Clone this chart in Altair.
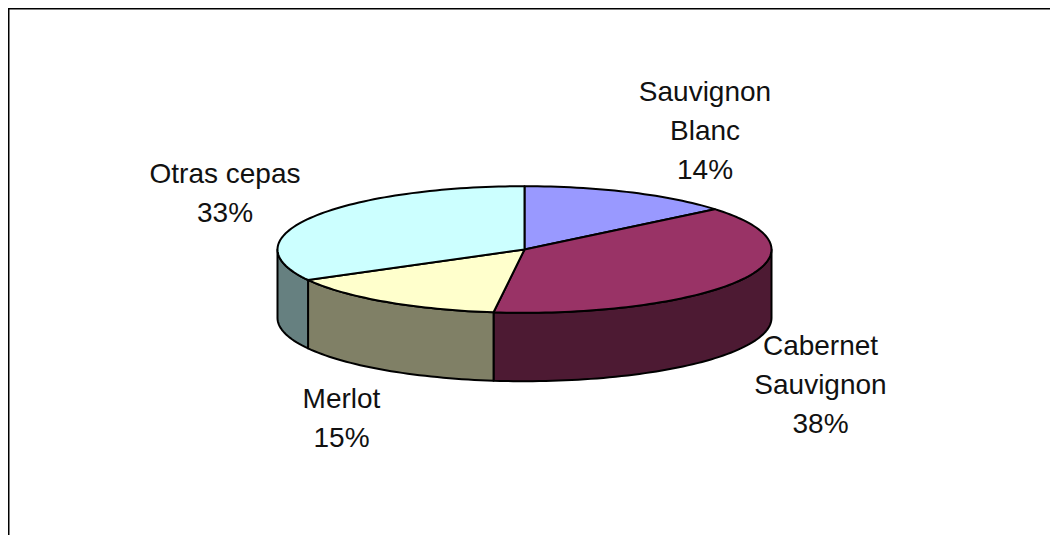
import math
import altair as alt
import pandas as pd

# --- data ---
names = ["Sauvignon\nBlanc", "Cabernet\nSauvignon", "Merlot", "Otras cepas"]
shares = [14, 38, 15, 33]
top_colors = ["#9999FF", "#993366", "#FFFFCC", "#CCFFFF"]
wall_colors = ["#4D4D80", "#4D1A33", "#808066", "#668080"]

# --- layout of the tilted pie, in pixels of the chart ---
CX, CY, RX, RY, DEPTH = 516.5, 241.5, 247.0, 63.3, 68.4
LABEL_OFFSET = [(180.5, -156.5), (296, 97.5), (-183, 150.5), (-299.5, -74.5)]
W, H = 1042, 527


def rim(deg):
    a = math.radians(deg)
    return [CX + RX * math.sin(a), CY - RY * math.cos(a)]


def arc(a0, a1):
    n = max(2, int(abs(a1 - a0) / 1.5))
    return [rim(a0 + (a1 - a0) * i / n) for i in range(n + 1)]


def feature(ring, fill):
    return {"type": "Feature", "properties": {"fill": fill},
            "geometry": {"type": "Polygon", "coordinates": [ring + [ring[0]]]}}


walls, tops = [], []
start = 0.0
for share, top, wall in zip(shares, top_colors, wall_colors):
    end = start + share * 3.6
    tops.append(feature([[CX, CY]] + arc(start, end), top))
    a0, a1 = max(start, 90.0), min(end, 270.0)
    if a1 > a0:
        upper = arc(a0, a1)
        lower = [[x, y + DEPTH] for x, y in reversed(upper)]
        walls.append(feature(upper + lower, wall))
    start = end


def shapes(features):
    return (
        alt.Chart(alt.InlineData(values=features, format=alt.DataFormat(type="json")))
        .mark_geoshape(stroke="black", strokeWidth=2, strokeJoin="round")
        .encode(fill=alt.Fill("properties.fill:N", scale=None))
        .project(type="identity", scale=1, translate=[0, 0])
    )


labels = pd.DataFrame({
    "text": [f"{n}\n{s}%" for n, s in zip(names, shares)],
    "lx": [CX + o[0] for o in LABEL_OFFSET],
    "ly": [CY + o[1] for o in LABEL_OFFSET],
})

text = (
    alt.Chart(labels)
    .mark_text(font="Liberation Sans", fontSize=28, color="#111111",
               lineBreak="\n", lineHeight=38.8, align="center", baseline="middle")
    .encode(x=alt.X("lx:Q", scale=None), y=alt.Y("ly:Q", scale=None), text="text:N")
)

frame_top = alt.Chart(pd.DataFrame({"k": [0]})).mark_rule(color="black", strokeWidth=2).encode(
    x=alt.value(0), x2=alt.value(W), y=alt.value(0.5))
frame_left = alt.Chart(pd.DataFrame({"k": [0]})).mark_rule(color="black", strokeWidth=2).encode(
    x=alt.value(0.5), y=alt.value(0), y2=alt.value(H))

chart = (
    alt.layer(frame_top, frame_left, shapes(walls), shapes(tops), text)
    .properties(width=W, height=H, padding=0, autosize=alt.AutoSizeParams(type="none"),
                background="white")
    .configure_view(stroke=None)
)

chart.save("out.html", embed_options={"renderer": "svg", "actions": False})
